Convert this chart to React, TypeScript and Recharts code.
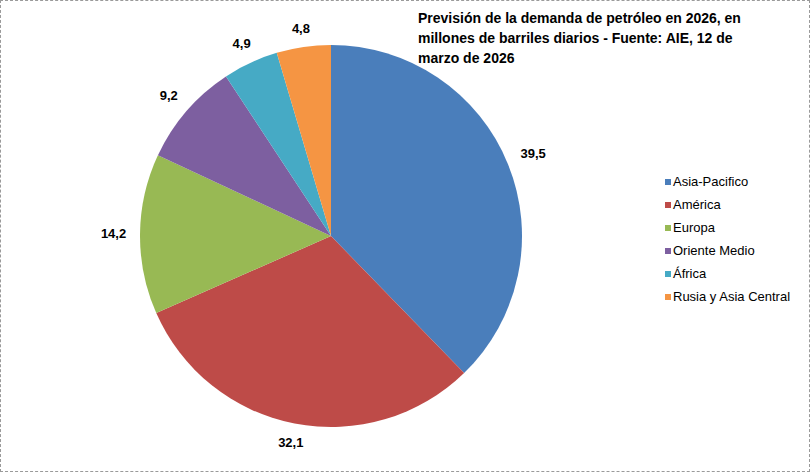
import React from "react";
import { PieChart, Pie, Cell, Legend } from "recharts";

const categories = ["Asia-Pacifico", "América", "Europa", "Oriente Medio", "África", "Rusia y Asia Central"];
const values = [39.5, 32.1, 14.2, 9.2, 4.9, 4.8];
const valueLabels = ["39,5", "32,1", "14,2", "9,2", "4,9", "4,8"];
const colors = ["#4A7EBB", "#BE4B48", "#98B954", "#7D5FA0", "#46AAC5", "#F59543"];

const data = categories.map((name, i) => ({ name, value: values[i], label: valueLabels[i] }));

const RADIAN = Math.PI / 180;

const renderLabel = (props: any) => {
  const { cx, cy, midAngle, outerRadius, index } = props;
  const c = Math.cos(-midAngle * RADIAN);
  const s = Math.sin(-midAngle * RADIAN);
  const text = valueLabels[index];
  const halfW = text.length * 3.6;
  const halfH = 5;
  const r = outerRadius + 12 + Math.abs(c) * halfW + Math.abs(s) * halfH;
  const x = cx + r * c;
  const y = cy + r * s;
  return (
    <text
      x={x}
      y={y}
      textAnchor="middle"
      dominantBaseline="central"
      fontFamily="'Liberation Sans', Arial, sans-serif"
      fontSize={13}
      fontWeight="bold"
      fill="#000"
    >
      {text}
    </text>
  );
};

const renderLegend = () => (
  <div style={{ fontFamily: "'Liberation Sans', Arial, sans-serif", fontSize: 13, color: "#000" }}>
    {categories.map((c, i) => (
      <div key={c} style={{ display: "flex", alignItems: "center", height: 23 }}>
        <span style={{ display: "inline-block", width: 6, height: 6, background: colors[i], marginRight: 2 }} />
        <span>{c}</span>
      </div>
    ))}
  </div>
);

export default function App() {
  return (
    <div style={{ position: "absolute", left: 0, top: 0, width: 811, height: 473, background: "#fff" }}>
      <div
        style={{
          position: "absolute",
          left: 0,
          top: 0,
          width: 810,
          height: 472,
          border: "1px dashed #9a9a9a",
          boxSizing: "border-box",
        }}
      />
      <div
        style={{
          position: "absolute",
          left: 418,
          top: 8,
          width: 390,
          fontFamily: "'Liberation Sans', Arial, sans-serif",
          fontSize: 14,
          fontWeight: "bold",
          lineHeight: "20px",
          color: "#000",
        }}
      >
        Previsión de la demanda de petróleo en 2026, en
        <br />
        millones de barriles diarios - Fuente: AIE, 12 de
        <br />
        marzo de 2026
      </div>
      <PieChart
        width={811}
        height={473}
        margin={{ top: 0, right: 0, bottom: 0, left: 0 }}
        style={{ position: "absolute", left: 0, top: 0 }}
      >
        <Pie
          data={data}
          dataKey="value"
          nameKey="name"
          cx={331}
          cy={236}
          outerRadius={191}
          startAngle={90}
          endAngle={-270}
          stroke="none"
          label={renderLabel}
          labelLine={false}
          isAnimationActive={false}
        >
          {data.map((d, i) => (
            <Cell key={d.name} fill={colors[i]} />
          ))}
        </Pie>
        <Legend
          content={renderLegend}
          layout="vertical"
          verticalAlign="top"
          align="right"
          wrapperStyle={{ position: "absolute", left: 665, top: 170, width: 140 }}
        />
      </PieChart>
    </div>
  );
}
